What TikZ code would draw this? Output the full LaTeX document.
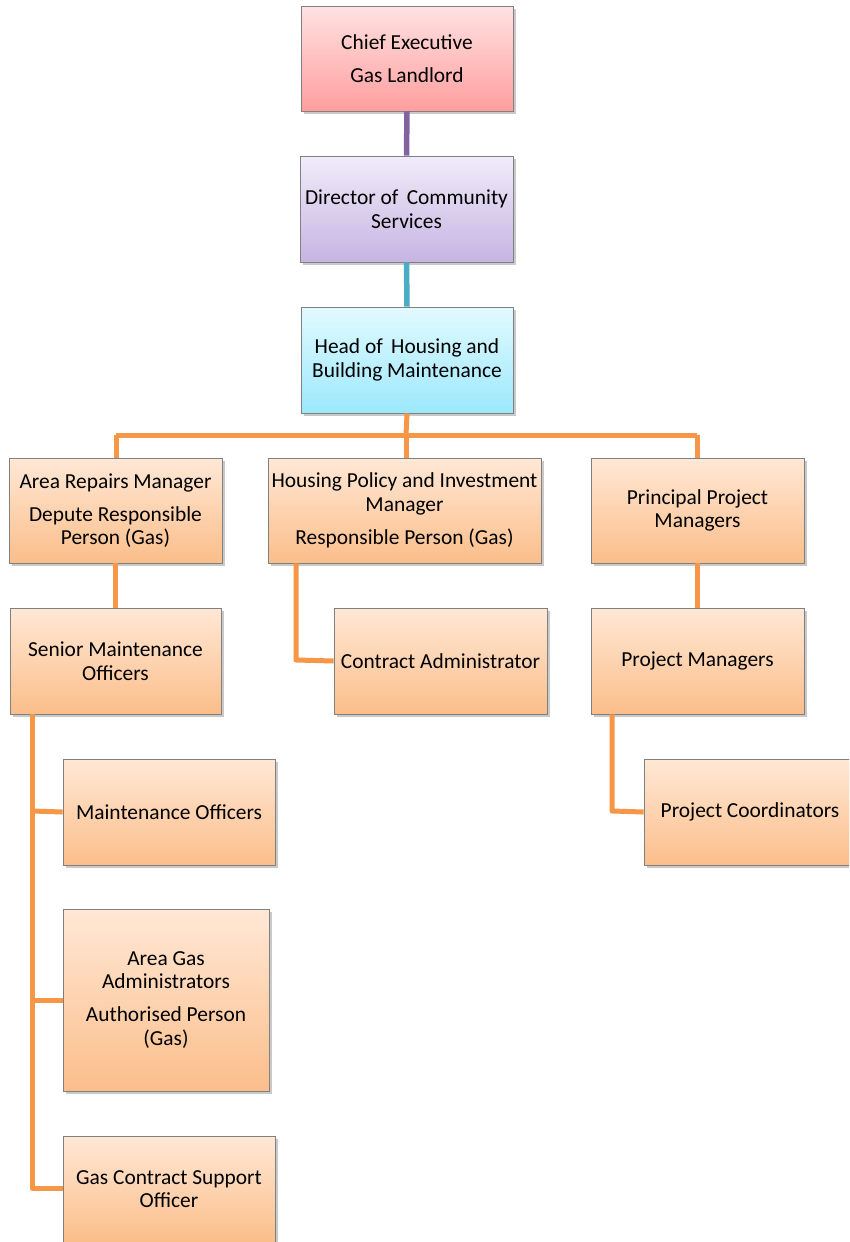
\documentclass[tikz,border=0pt]{standalone}
\usepackage{fontspec}
\setmainfont{Carlito}
\usetikzlibrary{shadows}
\definecolor{redtop}{RGB}{255,226,226}
\definecolor{redbot}{RGB}{255,158,158}
\definecolor{purtop}{RGB}{241,236,249}
\definecolor{purbot}{RGB}{198,180,226}
\definecolor{blutop}{RGB}{226,250,255}
\definecolor{blubot}{RGB}{156,232,252}
\definecolor{orgtop}{RGB}{255,232,214}
\definecolor{orgbot}{RGB}{251,190,138}
\definecolor{purline}{RGB}{128,100,162}
\definecolor{tealline}{RGB}{75,172,198}
\definecolor{orgline}{RGB}{247,150,70}
\definecolor{boxborder}{RGB}{128,128,128}
\tikzset{
  box/.style={rectangle, draw=boxborder, line width=0.8pt, align=center,
    font=\fontsize{21.4}{23.5}\selectfont, inner sep=0pt,
    drop shadow={shadow xshift=2.5pt, shadow yshift=-3pt, opacity=0.35, fill=black!60}},
  redbox/.style={box, top color=redtop, bottom color=redbot},
  purbox/.style={box, top color=purtop, bottom color=purbot},
  blubox/.style={box, top color=blutop, bottom color=blubot},
  orgbox/.style={box, top color=orgtop, bottom color=orgbot},
  orgconn/.style={draw=orgline, line width=5pt, line join=round},
}
\begin{document}
\begin{tikzpicture}[x=1pt,y=-1pt]
\useasboundingbox (0,0) rectangle (849,1242);
\clip (0,0) rectangle (849,1242);
\fill[white] (0,0) rectangle (849,1242);
\coordinate (hbar) at (406,435);
\coordinate (hbl) at (116,435);
\coordinate (hbr) at (697,435);
\coordinate (hpc) at (296,660);
\coordinate (pmc) at (612,811);
\coordinate (s1) at (32,811);
\coordinate (s2) at (32,1000);
\coordinate (s3) at (32,1188);

\node[redbox, minimum width=212, minimum height=105] (ce) at (407,58.5) {Chief Executive\\[9.5pt]Gas Landlord};
\node[purbox, minimum width=213, minimum height=106] (dcs) at (406.5,209) {Director of\, Community\\Services};
\node[blubox, minimum width=212, minimum height=106] (hhb) at (407,360) {Head of\, Housing and\\Building Maintenance};
\node[orgbox, minimum width=213, minimum height=105] (arm) at (115.5,510.5) {Area Repairs Manager\\[9.5pt]Depute Responsible\\Person (Gas)};
\node[orgbox, minimum width=273, minimum height=105] (hpm) at (404.5,510.5) {Housing Policy and Investment\\Manager\\[9.5pt]Responsible Person (Gas)};
\node[orgbox, minimum width=213, minimum height=105] (ppm) at (697.5,510.5) {Principal Project\\Managers};
\node[orgbox, minimum width=211, minimum height=106] (smo) at (115.5,661) {Senior Maintenance\\Officers};
\node[orgbox, minimum width=213, minimum height=106] (ca) at (440.5,661) {Contract Administrator};
\node[orgbox, minimum width=213, minimum height=106] (pm) at (697.5,661) {Project Managers};
\node[orgbox, minimum width=212, minimum height=106] (mo) at (169,812) {Maintenance Officers};
\node[orgbox, minimum width=212, minimum height=106] (pc) at (750,812) {Project Coordinators};
\node[orgbox, minimum width=206, minimum height=182] (aga) at (166,1000) {Area Gas\\Administrators\\[9.5pt]Authorised Person\\(Gas)};
\node[orgbox, minimum width=212, minimum height=106] (gcs) at (169,1189) {Gas Contract Support\\Officer};

\draw[draw=purline, line width=5.5pt] (ce.south) -- (dcs.north);
\draw[draw=tealline, line width=5.5pt] (dcs.south) -- (hhb.north);
\draw[orgconn] (hhb.south) -- (hbar);
\draw[orgconn] (hbl) -- (hbr);
\draw[orgconn] (hbl) -- (hbl |- arm.north);
\draw[orgconn] (hbar) -- (hbar |- hpm.north);
\draw[orgconn] (hbr) -- (hbr |- ppm.north);
\draw[orgconn] (arm.south) -- (smo.north);
\draw[orgconn] (hpm.south -| hpc) -- (hpc) -- (ca.west);
\draw[orgconn] (ppm.south) -- (pm.north);
\draw[orgconn] (pm.south -| pmc) -- (pmc) -- (pc.west);
\draw[orgconn] (smo.south -| s1) -- (s3) -- (gcs.west |- s3);
\draw[orgconn] (s1) -- (mo.west);
\draw[orgconn] (s2) -- (aga.west);
\end{tikzpicture}
\end{document}
